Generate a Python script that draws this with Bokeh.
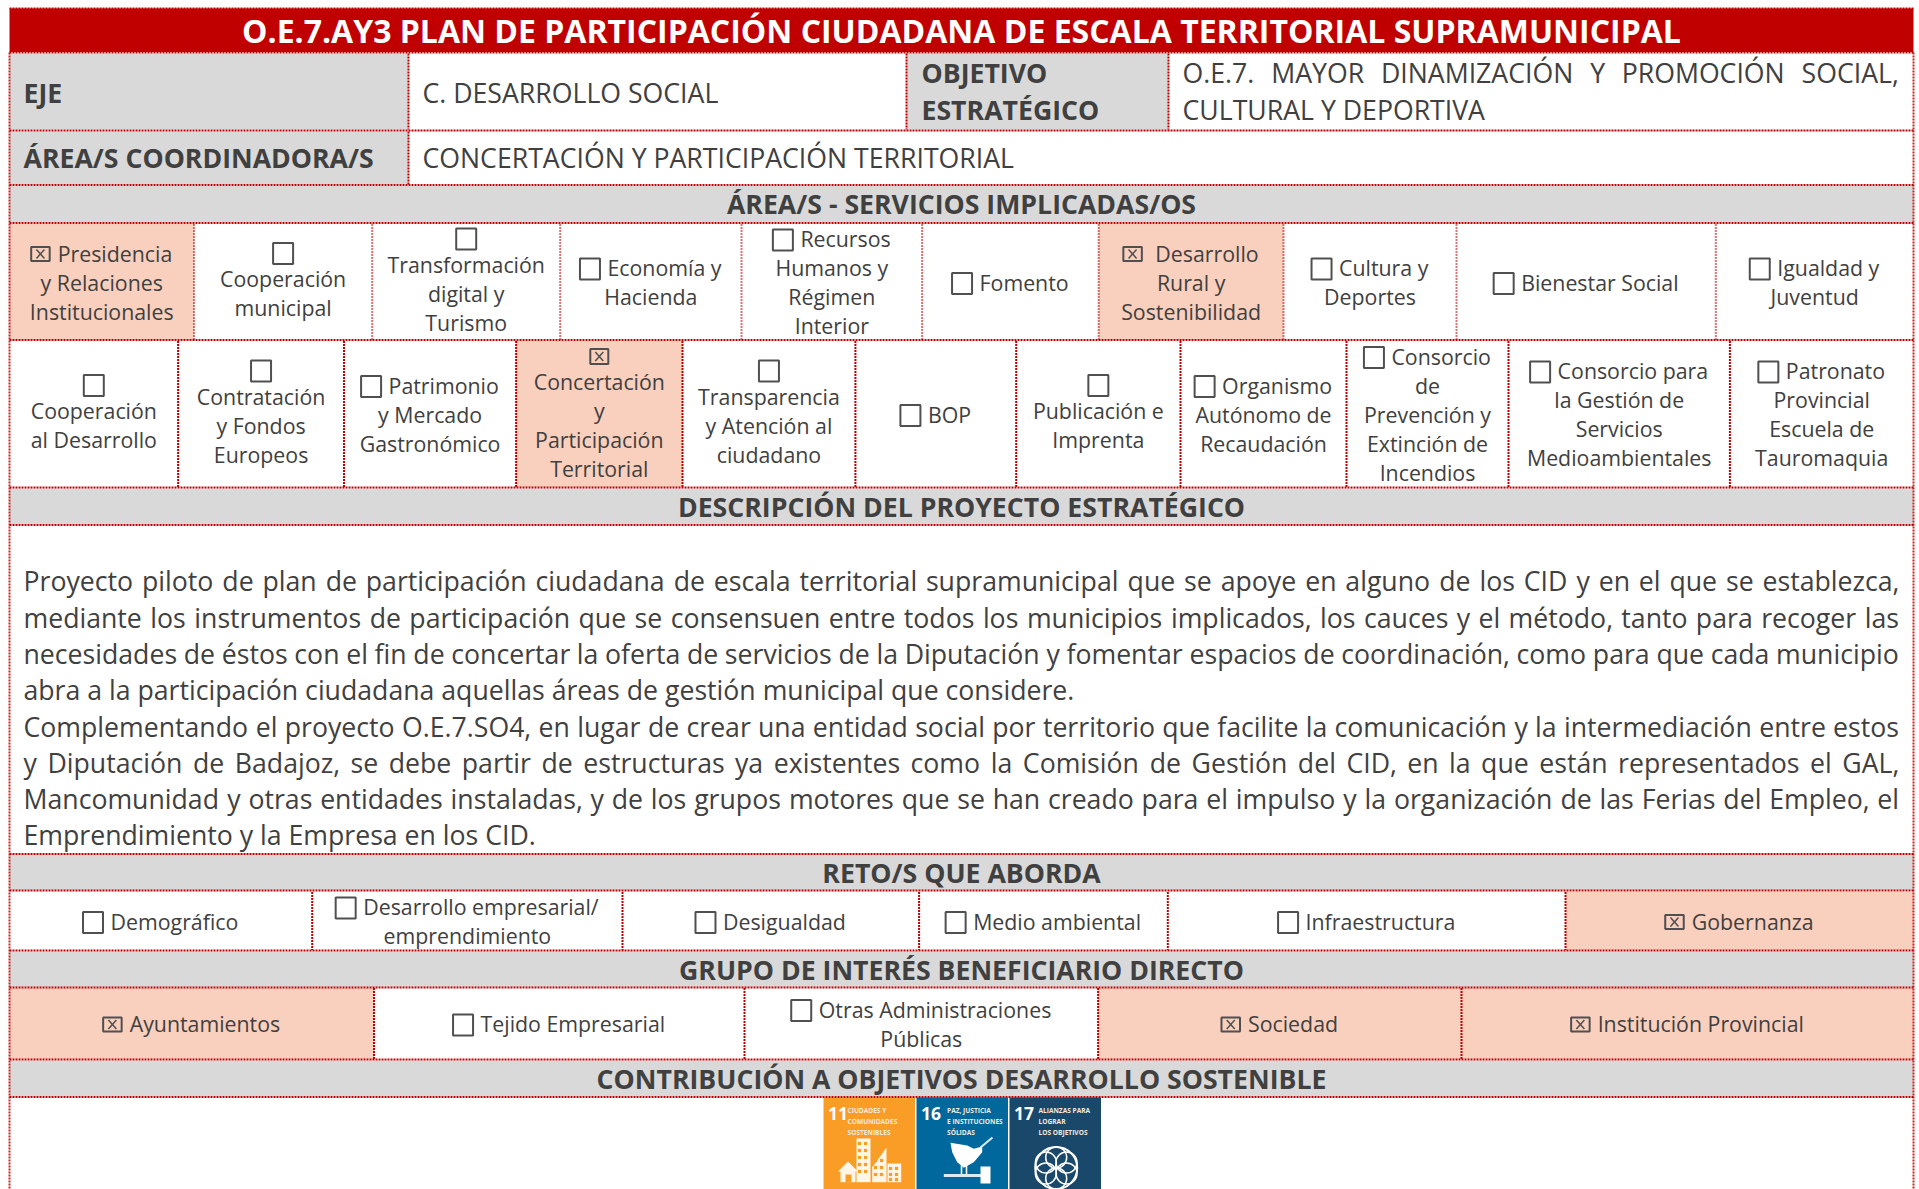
import glob, struct, unicodedata
from bokeh.plotting import figure, ColumnDataSource
from bokeh.models import Range1d
from bokeh.core.properties import value, field
from bokeh.embed import file_html
from bokeh.resources import INLINE

# ---------- content ----------
title = "O.E.7.AY3 PLAN DE PARTICIPACIÓN CIUDADANA DE ESCALA TERRITORIAL SUPRAMUNICIPAL"
eje_label = "EJE"
eje_value = "C. DESARROLLO SOCIAL"
objetivo_label = ["OBJETIVO", "ESTRATÉGICO"]
objetivo_value = ["O.E.7. MAYOR DINAMIZACIÓN Y PROMOCIÓN SOCIAL,", "CULTURAL Y DEPORTIVA"]
area_label = "ÁREA/S COORDINADORA/S"
area_value = "CONCERTACIÓN Y PARTICIPACIÓN TERRITORIAL"
headers = ["ÁREA/S - SERVICIOS IMPLICADAS/OS", "DESCRIPCIÓN DEL PROYECTO ESTRATÉGICO", "RETO/S QUE ABORDA",
           "GRUPO DE INTERÉS BENEFICIARIO DIRECTO", "CONTRIBUCIÓN A OBJETIVOS DESARROLLO SOSTENIBLE"]

row1_labels = ["Presidencia\ny Relaciones\nInstitucionales", "Cooperación\nmunicipal", "Transformación\ndigital y\nTurismo",
               "Economía y\nHacienda", "Recursos\nHumanos y\nRégimen\nInterior", "Fomento", "Desarrollo\nRural y\nSostenibilidad",
               "Cultura y\nDeportes", "Bienestar Social", "Igualdad y\nJuventud"]
row1_checked = [1, 0, 0, 0, 0, 0, 1, 0, 0, 0]
row1_own_box = [0, 1, 1, 0, 0, 0, 0, 0, 0, 0]

row2_labels = ["Cooperación\nal Desarrollo", "Contratación\ny Fondos\nEuropeos", "Patrimonio\ny Mercado\nGastronómico",
               "Concertación\ny\nParticipación\nTerritorial", "Transparencia\ny Atención al\nciudadano", "BOP",
               "Publicación e\nImprenta", "Organismo\nAutónomo de\nRecaudación", "Consorcio\nde\nPrevención y\nExtinción de\nIncendios",
               "Consorcio para\nla Gestión de\nServicios\nMedioambientales", "Patronato\nProvincial\nEscuela de\nTauromaquia"]
row2_checked = [0, 0, 0, 1, 0, 0, 0, 0, 0, 0, 0]
row2_own_box = [1, 1, 0, 1, 1, 0, 1, 0, 0, 0, 0]

reto_labels = ["Demográfico", "Desarrollo empresarial/\nemprendimiento", "Desigualdad", "Medio ambiental", "Infraestructura", "Gobernanza"]
reto_checked = [0, 0, 0, 0, 0, 1]

grupo_labels = ["Ayuntamientos", "Tejido Empresarial", "Otras Administraciones\nPúblicas", "Sociedad", "Institución Provincial"]
grupo_checked = [1, 0, 0, 1, 1]

body_lines = [
    "Proyecto piloto de plan de participación ciudadana de escala territorial supramunicipal que se apoye en alguno de los CID y en el que se establezca,",
    "mediante los instrumentos de participación que se consensuen entre todos los municipios implicados, los cauces y el método, tanto para recoger las",
    "necesidades de éstos con el fin de concertar la oferta de servicios de la Diputación y fomentar espacios de coordinación, como para que cada municipio",
    "abra a la participación ciudadana aquellas áreas de gestión municipal que considere.",
    "Complementando el proyecto O.E.7.SO4, en lugar de crear una entidad social por territorio que facilite la comunicación y la intermediación entre estos",
    "y Diputación de Badajoz, se debe partir de estructuras ya existentes como la Comisión de Gestión del CID, en la que están representados el GAL,",
    "Mancomunidad y otras entidades instaladas, y de los grupos motores que se han creado para el impulso y la organización de las Ferias del Empleo, el",
    "Emprendimiento y la Empresa en los CID.",
]
body_justified = [1, 1, 1, 0, 1, 1, 1, 0]

sdg_numbers = ["11", "16", "17"]
sdg_names = [["CIUDADES Y", "COMUNIDADES", "SOSTENIBLES"], ["PAZ, JUSTICIA", "E INSTITUCIONES", "SÓLIDAS"], ["ALIANZAS PARA", "LOGRAR", "LOS OBJETIVOS"]]
sdg_colors = ["#F99D26", "#00689D", "#19486A"]

# ---------- layout (page pixels) ----------
W, H = 1919, 1189
LEFT, RIGHT = 9, 1913
CENTER = 961
RED, GRAY, PINK, INK, BOXC = "#C00000", "#D9D9D9", "#F9CFBE", "#404040", "#505050"
LINE_Y = [8, 52, 130, 184.5, 222.5, 339.5, 487, 524.5, 853.5, 890, 950, 987, 1059, 1096.5]
HEADER_BANDS = [(185.5, 222), (488, 524), (854, 889.5), (951, 986.5), (1060, 1096)]
HEADER_BASE = [213.0, 515.5, 881.7, 978.3, 1087.7]
ROW1 = (223.5, 339.5, [9, 193.5, 371.7, 559.7, 741, 921.6, 1098.2, 1283, 1456, 1715.3, 1913])
ROW2 = (340.5, 486.5, [9, 177.6, 343.5, 515.6, 682, 854.9, 1015.7, 1180, 1346, 1508, 1729.4, 1913])
ROW3 = (891.5, 949.5, [9, 311.7, 622, 918.6, 1167.3, 1565, 1913])
ROW4 = (987.5, 1058.5, [9, 373.5, 744, 1097.6, 1461, 1913])
S_SMALL, S_BODY, S_TITLE = 21.33, 26.67, 32.0
LINE_H, OWN_BOX_H = 29.0, 22.0
BASELINE_K = 0.36  # the renderer places "alphabetic" text lower than the given y, in proportion to the size
SMALL_LIFT = 0.6


# ---------- font metrics so that justified lines and inline boxes can be placed ----------
FALLBACK = dict(zip("abcdefghijklmnopqrstuvwxyz ", [1139, 1255, 975, 1255, 1149, 694, 1122, 1257, 518, 518, 1062, 518, 1905,
                                                    1257, 1237, 1255, 1255, 836, 977, 723, 1257, 1020, 1593, 1073, 1022, 958, 532]))


def load_widths():
    paths = [f for f in glob.glob("/usr/share/fonts/**/OpenSans*", recursive=True)
             if "Italic" not in f and "Condensed" not in f and "Bold" not in f and "Light" not in f and "Semi" not in f and "Extra" not in f]
    paths.sort(key=lambda f: ("Regular" not in f, len(f)))
    d = open(paths[0], "rb").read()
    tables = {}
    for i in range(struct.unpack(">H", d[4:6])[0]):
        tag, _, off, ln = struct.unpack(">4sIII", d[12 + 16 * i:28 + 16 * i])
        tables[tag.decode()] = off
    upem = struct.unpack(">H", d[tables["head"] + 18:tables["head"] + 20])[0]
    nh = struct.unpack(">H", d[tables["hhea"] + 34:tables["hhea"] + 36])[0]
    hm = tables["hmtx"]
    cm = tables["cmap"]
    sub = None
    for i in range(struct.unpack(">H", d[cm + 2:cm + 4])[0]):
        pid, eid, off = struct.unpack(">HHI", d[cm + 4 + 8 * i:cm + 12 + 8 * i])
        if struct.unpack(">H", d[cm + off:cm + off + 2])[0] == 4:
            sub = cm + off
            break
    sc = struct.unpack(">H", d[sub + 6:sub + 8])[0] // 2
    arr = lambda o: struct.unpack(">%dH" % sc, d[o:o + 2 * sc])
    ends = arr(sub + 14)
    starts = arr(sub + 16 + 2 * sc)
    deltas = arr(sub + 16 + 4 * sc)
    ro_off = sub + 16 + 6 * sc
    ros = arr(ro_off)

    def adv(ch):
        c = ord(ch)
        g = 0
        for k in range(sc):
            if starts[k] <= c <= ends[k]:
                if ros[k] == 0:
                    g = (c + deltas[k]) & 0xFFFF
                else:
                    p = ro_off + 2 * k + ros[k] + 2 * (c - starts[k])
                    g = struct.unpack(">H", d[p:p + 2])[0]
                    if g:
                        g = (g + deltas[k]) & 0xFFFF
                break
        g = min(g, nh - 1)
        return struct.unpack(">H", d[hm + 4 * g:hm + 4 * g + 2])[0] / upem
    return adv


try:
    advance = load_widths()
except Exception:
    def advance(ch):
        b = unicodedata.normalize("NFD", ch)[0]
        if b in FALLBACK:
            return FALLBACK[b] / 2048
        if b in ".,/":
            return 0.28
        return 0.65 if b.isupper() else 0.56


def measure(s, size):
    return sum(advance(c) for c in s) * size


# ---------- collect marks ----------
txt = dict(x=[], y=[], text=[], size=[], style=[], color=[], align=[], font=[])


def put(x, y, s, size=S_SMALL, style="normal", color=INK, align="left", font="Open Sans"):
    txt["x"].append(x); txt["y"].append(y - BASELINE_K * size); txt["text"].append(s); txt["size"].append("%.2fpx" % size)
    txt["style"].append(style); txt["color"].append(color); txt["align"].append(align); txt["font"].append(font)


def justified(line, x0, x1, y, size):
    words = line.split(" ")
    gap = (x1 - x0 - sum(measure(w, size) for w in words)) / (len(words) - 1)
    x = x0
    for w in words:
        put(x, y, w, size)
        x += measure(w, size) + gap


bands = dict(l=[], r=[], t=[], b=[], c=[])


def band(l, r, t, b, c):
    bands["l"].append(l); bands["r"].append(r); bands["t"].append(t); bands["b"].append(b); bands["c"].append(c)


boxes = dict(l=[], r=[], t=[], b=[], w=[])
crosses = dict(x0=[], y0=[], x1=[], y1=[])
vlines = dict(x=[], t=[], b=[], a=[])


def vline(x, t, b, a=1.0):
    vlines["x"].append(x); vlines["t"].append(t); vlines["b"].append(b); vlines["a"].append(a)


def box(l, r, t, b, checked):
    boxes["l"].append(l); boxes["r"].append(r); boxes["t"].append(t); boxes["b"].append(b)
    boxes["w"].append(2.0)
    if checked:
        cx, cy = (l + r) / 2, (t + b) / 2
        crosses["x0"] += [cx - 4, cx - 4]; crosses["x1"] += [cx + 4, cx + 4]
        crosses["y0"] += [cy - 4.5, cy + 4.5]; crosses["y1"] += [cy + 4.5, cy - 4.5]


def cell(x0, x1, top, bottom, label, checked, own, gap=None):
    lines = label.split("\n")
    total = len(lines) * LINE_H + (OWN_BOX_H if own else 0)
    cx = (x0 + x1) / 2
    y = (top + bottom) / 2 - total / 2
    if checked:
        band(x0, x1, top, bottom, PINK)
    if own:
        if checked:
            box(cx - 9, cx + 9, y + 4, y + 19, True)
        else:
            box(cx - 10, cx + 10, y + 1, y + 22, False)
        y += OWN_BOX_H
    for i, ln in enumerate(lines):
        base = y + 23 - SMALL_LIFT
        if i == 0 and not own:
            bw = 18.5 if checked else 20
            g = gap if gap else (8 if checked else 7.5)
            tw = measure(ln, S_SMALL)
            left = cx - (bw + g + tw) / 2
            if checked:
                box(left, left + bw, base - 14, base, True)
            else:
                box(left, left + bw, base - 17, base + 4, False)
            put(left + bw + g, base, ln)
        else:
            put(cx, base, ln, align="center")
        y += LINE_H


def row(spec, labels, checked, own=None, alpha=1.0):
    top, bottom, edges = spec
    for i, lab in enumerate(labels):
        gap = 13.5 if lab.startswith("Desarrollo\n") else None
        cell(edges[i], edges[i + 1], top, bottom, lab, checked[i], own[i] if own else 0, gap)
    for e in edges[1:-1]:
        vline(e, top, bottom, alpha)


# title and head block
band(LEFT, RIGHT, 8, 51.5, RED)
put(CENTER, 41.5, title, S_TITLE, "bold", "#FFFFFF", "center")
band(LEFT, 408, 53, 129, GRAY)
band(906, 1168, 53, 129, GRAY)
band(LEFT, 408, 131, 184, GRAY)
put(23, 101.7, eje_label, S_BODY, "bold")
put(422, 101.7, eje_value, S_BODY)
put(921, 82, objetivo_label[0], S_BODY, "bold")
put(921, 119, objetivo_label[1], S_BODY, "bold")
justified(objetivo_value[0], 1182, 1898, 82, S_BODY)
put(1182, 119, objetivo_value[1], S_BODY)
put(23, 166.7, area_label, S_BODY, "bold")
put(422, 166.7, area_value, S_BODY)
for e in (408, 906, 1168):
    vline(e, 53, 129)
vline(408, 131, 184)

# section headers
for (t, b), base, s in zip(HEADER_BANDS, HEADER_BASE, headers):
    band(LEFT, RIGHT, t, b, GRAY)
    put(CENTER, base, s, S_BODY, "bold", align="center")

# check box rows
row(ROW1, row1_labels, row1_checked, row1_own_box, 0.55)
row(ROW2, row2_labels, row2_checked, row2_own_box)
row(ROW3, reto_labels, reto_checked)
row(ROW4, grupo_labels, grupo_checked)

# description
for i, ln in enumerate(body_lines):
    y = 590 + i * 36.3
    if body_justified[i]:
        justified(ln, 23, 1898.5, y, S_BODY)
    else:
        put(23, y, ln, S_BODY)

# outer border
vline(LEFT, 52, H, 0.85)
vline(RIGHT, 52, H, 0.85)

# ---------- figure ----------
p = figure(width=W, height=H, x_range=Range1d(0, W), y_range=Range1d(H, 0), x_axis_type=None, y_axis_type=None,
           toolbar_location=None, output_backend="svg", min_border=0, outline_line_color=None,
           background_fill_color="white", border_fill_color="white")
p.styles = {"position": "absolute", "left": "0px", "top": "0px"}

p.quad(left="l", right="r", top="t", bottom="b", fill_color="c", line_color=None, source=ColumnDataSource(bands))

# SDG tiles
TILE_X = [823, 916, 1009]
TILE_NAME_DX = [24, 30.5, 29]
TILE_W, TILE_TOP = 91.5, 1097
tile_src = ColumnDataSource(dict(l=TILE_X, r=[x + TILE_W for x in TILE_X], t=[TILE_TOP] * 3, b=[H] * 3, c=sdg_colors))
p.quad(left="l", right="r", top="t", bottom="b", fill_color="c", line_color=None, source=tile_src)
for x, dx, num, names in zip(TILE_X, TILE_NAME_DX, sdg_numbers, sdg_names):
    put(x + 4.5, TILE_TOP + 22.5, num, 17.5, "bold", "#FFFFFF")
    for k, nm in enumerate(names):
        put(x + dx, TILE_TOP + 15.5 + 10.8 * k, nm, 6.6, "bold", "#F4E9DC")

# pictogram 11: city
cream = "#FFF6E8"
p.quad(left=[856, 840, 871.7, 887], right=[870, 855, 886, 900.7], top=[1138, 1170, 1166, 1163], bottom=[1181.7] * 4,
       fill_color=cream, line_color=None)
p.patch(x=[837.5, 847.5, 857.5], y=[1171, 1161, 1171], fill_color=cream, line_color=None)
p.patch(x=[871.7, 886, 886, 871.7], y=[1167, 1147, 1167, 1167], fill_color=cream, line_color=None)
win_x = [859, 865, 859, 865, 859, 865, 859, 865, 859, 865, 875, 881, 875, 881, 875, 881, 890, 896, 890, 896, 890, 896]
win_y = [1143, 1143, 1150, 1150, 1157, 1157, 1164, 1164, 1171, 1171, 1160, 1160, 1167, 1167, 1174, 1174, 1168, 1168, 1174, 1174, 1179, 1179]
p.scatter(win_x, win_y, size=3.2, marker="square", fill_color="#F99D26", line_color=None)
p.quad(left=[845], right=[851], top=[1174], bottom=[1181.7], fill_color="#F99D26", line_color=None)

# pictogram 16: dove and gavel
p.patch(x=[950, 966.7, 973.3, 981.7, 981.7, 973.3, 963.3, 956.7, 951.7],
        y=[1142.3, 1145, 1148.3, 1146, 1151.7, 1161.7, 1167.3, 1161.7, 1151.7], fill_color="white", line_color=None)
p.line(x=[980, 986, 992], y=[1147, 1142, 1137], line_color="#DCEBF3", line_width=2)
p.segment(x0=[961, 966], y0=[1165, 1165], x1=[961, 966], y1=[1175, 1175], line_color="white", line_width=1.6)
p.line(x=[943.3, 981], y=[1175, 1175], line_color="#DCEBF3", line_width=3)
p.quad(left=[980], right=[990], top=[1166], bottom=[1183], fill_color="white", line_color=None)

# pictogram 17: interlaced rings
p.circle(x=[1055.7], y=[1167.5], radius=21, fill_color=None, line_color="white", line_width=2)
ring_x = [1055.7, 1055.7, 1066, 1045.4, 1066, 1045.4]
ring_y = [1157, 1178, 1162, 1162, 1173, 1173]
p.circle(x=ring_x, y=ring_y, radius=10.5, fill_color=None, line_color="white", line_width=1.5)

# dotted rules
p.segment(x0=[LEFT] * len(LINE_Y), x1=[RIGHT] * len(LINE_Y), y0=LINE_Y, y1=LINE_Y, line_color=RED, line_width=2, line_dash="2 1")
p.segment(x0="x", x1="x", y0="t", y1="b", line_color=RED, line_alpha="a", line_width=2, line_dash="2 1", source=ColumnDataSource(vlines))

# check boxes
p.quad(left="l", right="r", top="t", bottom="b", fill_color=None, line_color=BOXC, line_width="w", source=ColumnDataSource(boxes))
p.segment(x0="x0", y0="y0", x1="x1", y1="y1", line_color=BOXC, line_width=1.5, source=ColumnDataSource(crosses))

# all texts
p.text(x="x", y="y", text="text", text_font_size=field("size"), text_font_style=field("style"), text_color="color",
       text_align=field("align"), text_baseline="alphabetic", text_font=field("font"), source=ColumnDataSource(txt))

open("out.html", "w").write(file_html(p, INLINE))
